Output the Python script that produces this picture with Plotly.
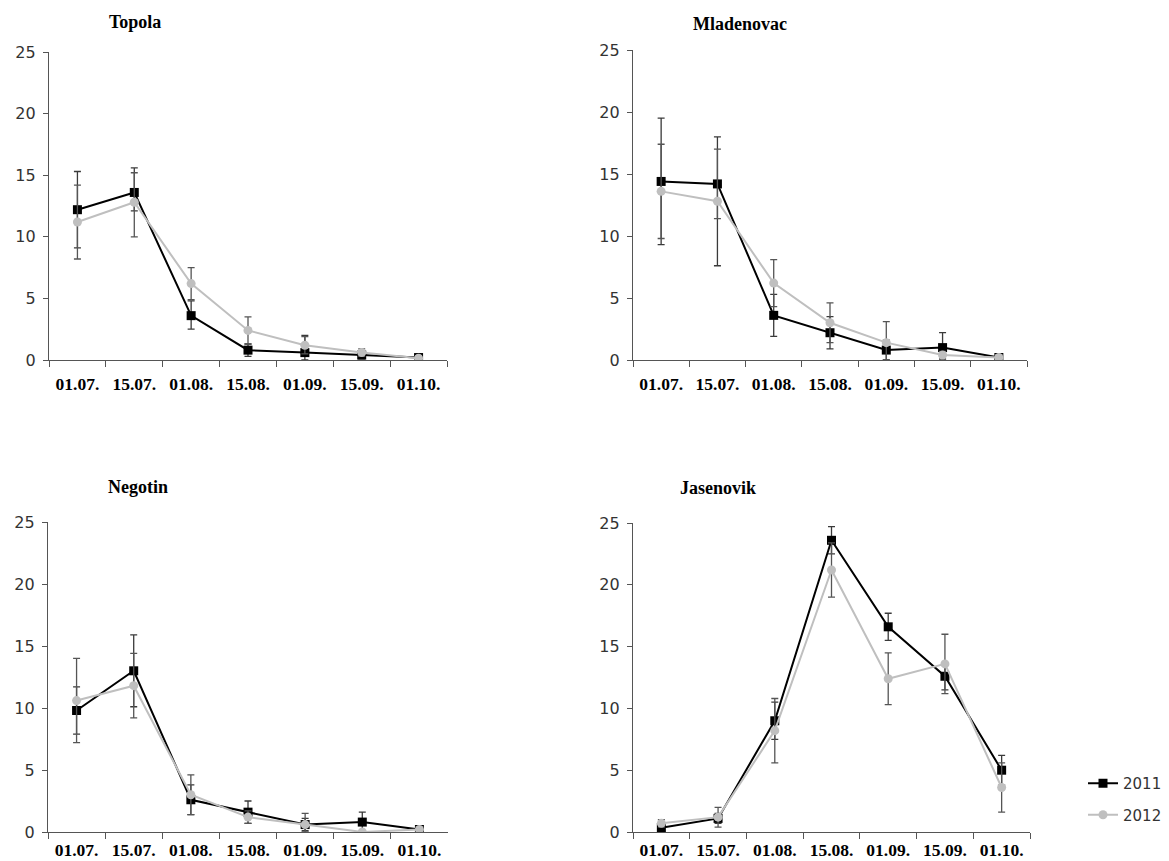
import plotly.graph_objects as go

# Page is shown with an 8px body margin; the figure is sized to fit the window.
OFF = 8
W, H = 1169 - OFF, 861 - OFF

categories = ["01.07.", "15.07.", "01.08.", "15.08.", "01.09.", "15.09.", "01.10."]
sites = ["Topola", "Mladenovac", "Negotin", "Jasenovik"]

# Topola
topola_2011 = [12.2, 13.6, 3.6, 0.8, 0.6, 0.4, 0.2]
topola_2011_up = [3.1, 2.0, 1.2, 0.5, 1.4, 0.3, 0.2]
topola_2011_lo = [3.1, 1.5, 1.1, 0.5, 0.6, 0.3, 0.2]
topola_2012 = [11.2, 12.8, 6.2, 2.4, 1.2, 0.6, 0.15]
topola_2012_up = [3.0, 2.4, 1.3, 1.1, 0.7, 0.3, 0.2]
topola_2012_lo = [3.0, 2.8, 1.3, 1.1, 0.7, 0.3, 0.15]

# Mladenovac
mladenovac_2011 = [14.4, 14.2, 3.6, 2.2, 0.8, 1.0, 0.2]
mladenovac_2011_up = [5.1, 3.8, 1.7, 1.3, 0.8, 1.2, 0.2]
mladenovac_2011_lo = [5.1, 6.6, 1.7, 1.3, 0.8, 1.0, 0.2]
mladenovac_2012 = [13.6, 12.8, 6.2, 3.0, 1.4, 0.4, 0.2]
mladenovac_2012_up = [3.8, 4.2, 1.9, 1.6, 1.7, 0.3, 0.2]
mladenovac_2012_lo = [3.8, 1.4, 1.9, 1.6, 1.4, 0.3, 0.2]

# Negotin
negotin_2011 = [9.8, 13.0, 2.6, 1.6, 0.6, 0.8, 0.2]
negotin_2011_up = [1.9, 2.9, 1.2, 0.9, 0.5, 0.8, 0.2]
negotin_2011_lo = [1.9, 2.9, 1.2, 0.9, 0.5, 0.8, 0.2]
negotin_2012 = [10.6, 11.8, 3.0, 1.2, 0.6, 0.0, 0.2]
negotin_2012_up = [3.4, 2.6, 1.6, 0.5, 0.9, 0.0, 0.2]
negotin_2012_lo = [3.4, 2.6, 1.6, 0.5, 0.6, 0.0, 0.2]

# Jasenovik
jasenovik_2011 = [0.35, 1.1, 9.0, 23.6, 16.6, 12.6, 5.0]
jasenovik_2011_up = [0.3, 0.4, 1.5, 1.1, 1.1, 1.1, 1.2]
jasenovik_2011_lo = [0.3, 0.4, 1.5, 1.1, 1.1, 1.1, 1.2]
jasenovik_2012 = [0.7, 1.2, 8.2, 21.2, 12.4, 13.6, 3.6]
jasenovik_2012_up = [0.3, 0.8, 2.6, 2.2, 2.1, 2.4, 2.0]
jasenovik_2012_lo = [0.3, 0.8, 2.6, 2.2, 2.1, 2.4, 2.0]

y_ticks = [0, 5, 10, 15, 20, 25]

series = {
    "Topola": [(topola_2011, topola_2011_up, topola_2011_lo),
               (topola_2012, topola_2012_up, topola_2012_lo)],
    "Mladenovac": [(mladenovac_2011, mladenovac_2011_up, mladenovac_2011_lo),
                   (mladenovac_2012, mladenovac_2012_up, mladenovac_2012_lo)],
    "Negotin": [(negotin_2011, negotin_2011_up, negotin_2011_lo),
                (negotin_2012, negotin_2012_up, negotin_2012_lo)],
    "Jasenovik": [(jasenovik_2011, jasenovik_2011_up, jasenovik_2011_lo),
                  (jasenovik_2012, jasenovik_2012_up, jasenovik_2012_lo)],
}

# panel pixel boxes in window pixels: (x0, x1, ytop, ybottom)
boxes = {
    "Topola": (49, 447, 52, 360),
    "Mladenovac": (633, 1027, 50, 360),
    "Negotin": (48, 448, 522, 832),
    "Jasenovik": (633, 1030, 523, 832),
}
title_pos = {
    "Topola": (135, 22),
    "Mladenovac": (740, 24),
    "Negotin": (138, 487),
    "Jasenovik": (718, 488),
}
label_standoff = {"Topola": 8, "Mladenovac": 8, "Negotin": 2, "Jasenovik": 2}


def fx(px):
    return (px - OFF) / W


def fy(py):
    return 1 - (py - OFF) / H


year_names = ["2011", "2012"]
line_colors = ["#000000", "#bfbfbf"]
err_colors = ["#3a3a3a", "#555555"]
symbols = ["square", "circle"]
msizes = [9, 9]

fig = go.Figure()
layout = {}
annotations = []
for i, site in enumerate(sites):
    n = "" if i == 0 else str(i + 1)
    x0, x1, yt, yb = boxes[site]
    for k in range(2):
        vals, up, lo = series[site][k]
        fig.add_trace(go.Scatter(
            x=categories, y=vals,
            xaxis="x" + n, yaxis="y" + n,
            mode="lines+markers",
            name=year_names[k],
            legendgroup=year_names[k],
            showlegend=(i == 0),
            line=dict(color=line_colors[k], width=2),
            marker=dict(symbol=symbols[k], size=msizes[k], color=line_colors[k]),
            error_y=dict(type="data", symmetric=False, array=up, arrayminus=lo,
                         color=err_colors[k], thickness=1.3, width=3.5),
        ))
    layout["xaxis" + n] = dict(
        domain=[fx(x0), fx(x1)], anchor="y" + n,
        type="category", range=[-0.5, 6.5],
        tickson="boundaries", ticks="outside", ticklen=6, tickwidth=1.3,
        tickcolor="#555555", showline=True, linecolor="#555555", linewidth=1.3,
        showgrid=False, zeroline=False, ticklabelstandoff=label_standoff[site],
        tickfont=dict(family="Liberation Serif", size=17.5, color="#000000", weight="bold"),
    )
    layout["yaxis" + n] = dict(
        domain=[fy(yb), fy(yt)], anchor="x" + n,
        range=[0, 25], tickvals=y_ticks, ticks="outside", ticklen=5, tickwidth=1.3,
        tickcolor="#555555", showline=True, linecolor="#555555", linewidth=1.3,
        showgrid=False, zeroline=False, ticklabelstandoff=4,
        tickfont=dict(family="DejaVu Sans", size=16, color="#333333"),
    )
    tx, ty = title_pos[site]
    annotations.append(dict(
        text="<b>" + site + "</b>", x=fx(tx), y=fy(ty), xref="paper", yref="paper",
        showarrow=False, xanchor="center", yanchor="middle",
        font=dict(family="Liberation Serif", size=18, color="#000000"),
    ))

fig.update_layout(
    width=W, height=H,
    margin=dict(l=0, r=0, t=0, b=0, autoexpand=False),
    paper_bgcolor="white", plot_bgcolor="white",
    showlegend=True,
    legend=dict(x=fx(1083), y=fy(767), xanchor="left", yanchor="top",
                bgcolor="rgba(0,0,0,0)", tracegroupgap=9, traceorder="grouped",
                font=dict(family="DejaVu Sans", size=15, color="#333333")),
    annotations=annotations,
    **layout,
)

fig.write_html("out.html")
